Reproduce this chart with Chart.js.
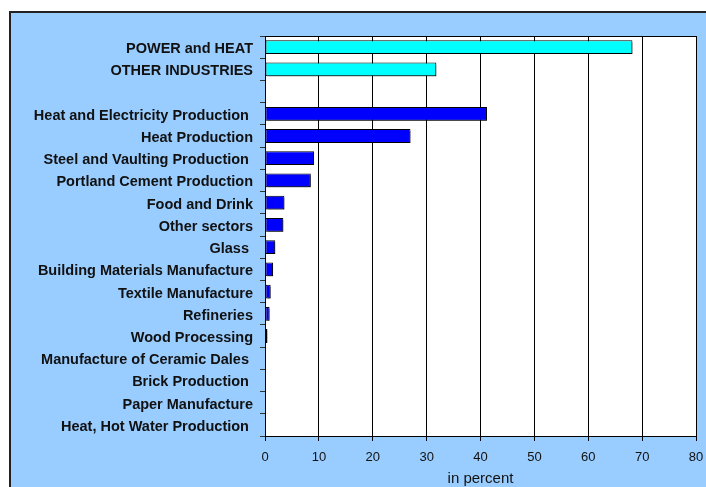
<!DOCTYPE html>
<html>
<head>
<meta charset="utf-8">
<script src="https://cdn.jsdelivr.net/npm/chart.js@4"></script>
<style>
  html, body { margin: 0; padding: 0; background: #fff; overflow: hidden; }
  #myChart { display: block; }
</style>
</head>
<body>
<canvas id="myChart" width="706" height="487"></canvas>
<script>
// sectors, the empty entry keeps a gap between the totals and the breakdown
var sectors = [
    'POWER and HEAT',
    'OTHER INDUSTRIES',
    '',
    'Heat and Electricity Production ',
    'Heat Production',
    'Steel and Vaulting Production ',
    'Portland Cement Production',
    'Food and Drink',
    'Other sectors',
    'Glass ',
    'Building Materials Manufacture',
    'Textile Manufacture',
    'Refineries',
    'Wood Processing',
    'Manufacture of Ceramic Dales ',
    'Brick Production ',
    'Paper Manufacture',
    'Heat, Hot Water Production '
];
var shares = [68.2, 31.8, null, 41.2, 27.0, 9.1, 8.5, 3.6, 3.4, 1.9, 1.5, 1.05, 0.85, 0.45, 0.04, 0.03, 0.02, 0.01];
var barColors = ['#00FFFF', '#00FFFF', '#0000FF', '#0000FF', '#0000FF', '#0000FF', '#0000FF', '#0000FF', '#0000FF',
    '#0000FF', '#0000FF', '#0000FF', '#0000FF', '#0000FF', '#0000FF', '#0000FF', '#0000FF', '#0000FF'];
var xTicks = [0, 10, 20, 30, 40, 50, 60, 70, 80];

// light blue panel behind everything, white plot area with a black frame
var plotArea = {
    id: 'plotArea',
    beforeDraw: function(chart) {
        var a = chart.chartArea, c = chart.ctx;
        c.save();
        c.fillStyle = '#99ccff';
        c.fillRect(9, 11, chart.width - 9, chart.height - 11);
        c.fillStyle = '#222';
        c.fillRect(9, 11, 2, chart.height - 11);
        c.fillRect(9, 11, chart.width - 9, 2);
        c.fillStyle = '#ffffff';
        c.fillRect(a.left, a.top, a.right - a.left, a.bottom - a.top);
        c.restore();
    },
    afterDraw: function(chart) {
        var a = chart.chartArea, c = chart.ctx;
        c.save();
        c.strokeStyle = '#000';
        c.lineWidth = 1;
        c.beginPath();
        c.moveTo(a.left, a.top + 0.5);
        c.lineTo(a.right, a.top + 0.5);
        c.stroke();
        c.restore();
    }
};

// drop shadow under the bars
var barShadow = {
    id: 'barShadow',
    beforeDatasetsDraw: function(chart) {
        var c = chart.ctx;
        c.save();
        c.shadowColor = 'rgba(0,0,0,0.45)';
        c.shadowOffsetX = 2;
        c.shadowOffsetY = 2;
        c.shadowBlur = 0;
    },
    afterDatasetsDraw: function(chart) {
        chart.ctx.restore();
    }
};

var ctx = document.getElementById('myChart').getContext('2d');
var myChart = new Chart(ctx, {
    type: 'bar',
    data: {
        labels: sectors,
        datasets: [{
            data: shares,
            backgroundColor: barColors,
            borderColor: '#000',
            borderWidth: 1,
            borderSkipped: false,
            categoryPercentage: 1,
            barPercentage: 0.62
        }]
    },
    options: {
        indexAxis: 'y',
        responsive: false,
        animation: false,
        layout: {
            padding: { top: 36, right: 10, bottom: 0, left: 0 }
        },
        plugins: {
            legend: { display: false },
            tooltip: { enabled: false }
        },
        scales: {
            y: {
                afterFit: function(scale) { scale.width = 265; },
                grid: {
                    display: true,
                    drawOnChartArea: false,
                    offset: true,
                    tickLength: 5,
                    color: '#333'
                },
                border: { display: true, color: '#000', width: 1 },
                ticks: {
                    color: '#111',
                    padding: 7,
                    labelOffset: 2,
                    autoSkip: false,
                    font: { family: '"Liberation Sans", Arial, sans-serif', size: 14.5, weight: 'bold' }
                }
            },
            x: {
                min: 0,
                max: 80,
                afterFit: function(scale) {
                    scale.height = 51;
                    scale.paddingLeft = 0;
                    scale.paddingRight = 0;
                },
                afterBuildTicks: function(scale) {
                    scale.ticks = xTicks.map(function(v) { return { value: v }; });
                },
                grid: {
                    color: '#000',
                    lineWidth: 1,
                    tickLength: 5
                },
                border: { display: true, color: '#000', width: 1 },
                ticks: {
                    color: '#111',
                    padding: 9,
                    font: { family: '"Liberation Sans", Arial, sans-serif', size: 13 }
                },
                title: {
                    display: true,
                    text: 'in percent',
                    color: '#111',
                    padding: { top: 0, bottom: 1 },
                    font: { family: '"Liberation Sans", Arial, sans-serif', size: 15, lineHeight: 1 }
                }
            }
        }
    },
    plugins: [plotArea, barShadow]
});
</script>
</body>
</html>
